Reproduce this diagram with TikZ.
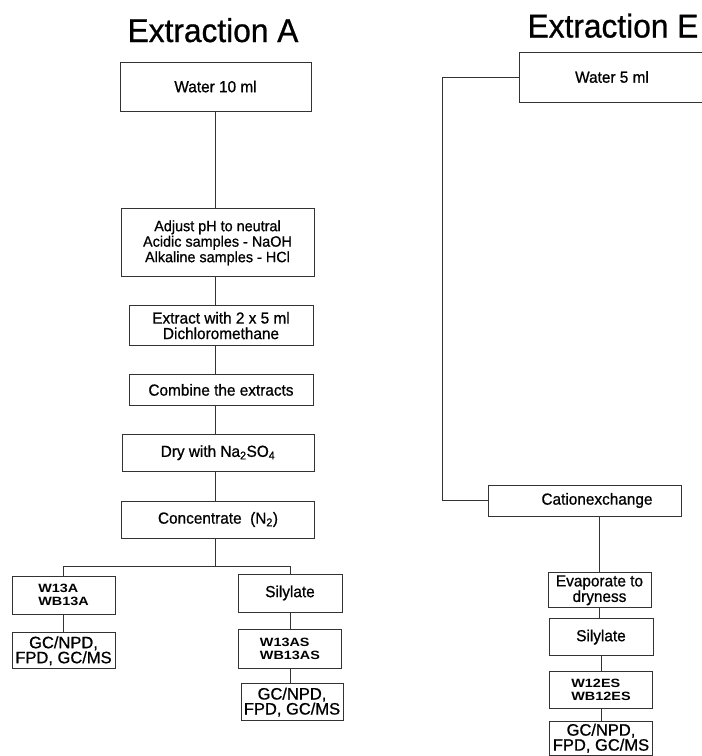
\documentclass[tikz,border=0pt]{standalone}
\usepackage{fontspec}
\setmainfont{Liberation Sans}[FakeStretch=0.96, FakeBold=0.8]
\newfontfamily\codefont{Liberation Sans}[FakeStretch=1.2]
\newfontfamily\gcfont{Liberation Sans}[FakeBold=0.8]
\usetikzlibrary{positioning}

\tikzset{
  box/.style={draw=black!80, line width=0.8pt, inner sep=0pt, align=center,
    font=\fontsize{16}{15.5}\selectfont},
  codebox/.style={box, align=left, font=\codefont\bfseries\fontsize{12}{13}\selectfont},
  gcbox/.style={box, font=\gcfont\fontsize{16.5}{15}\selectfont},
  link/.style={draw=black!80, line width=0.8pt},
  title/.style={font=\fontsize{33}{40}\selectfont, inner sep=0pt, anchor=base}
}

\begin{document}
\begin{tikzpicture}
        \useasboundingbox (0,0) rectangle (702pt,-756pt);

        \node[title] (titleA) at (213pt,-42pt) {Extraction A};
        \node[title] (titleE) at (613pt,-37.5pt) {Extraction E};

        % extraction A
        \node[box, minimum width=191pt, minimum height=49pt] (water10) at (215.5pt,-86.5pt) {Water 10 ml};
        \node[box, below=97pt of water10, xshift=2pt, minimum width=193pt, minimum height=68pt, font=\fontsize{15}{15.5}\selectfont] (adjust) {Adjust pH to neutral\\Acidic samples - NaOH\\Alkaline samples - HCl};
        \node[box, below=28pt of adjust, xshift=3.5pt, minimum width=184pt, minimum height=40pt] (extract) {Extract with 2 x 5 ml\\Dichloromethane};
        \node[box, below=28pt of extract, minimum width=184pt, minimum height=31pt] (combine) {Combine the extracts};
        \node[box, below=28pt of combine, xshift=-3pt, minimum width=192pt, minimum height=37pt] (dry) {Dry with Na\textsubscript{2}SO\textsubscript{4}};
        \node[box, below=29pt of dry, minimum width=193pt, minimum height=37pt] (conc) {Concentrate~~(N\textsubscript{2})};

        \node[codebox, minimum width=103pt, minimum height=38pt] (w13a) at (63.5pt,-595pt) {W13A\\WB13A};
        \node[gcbox, below=18pt of w13a, minimum width=103pt, minimum height=36pt] (gcA) {GC/NPD,\\FPD, GC/MS};
        \node[box, minimum width=104pt, minimum height=38pt] (silA) at (290pt,-593pt) {Silylate};
        \node[codebox, below=17pt of silA, minimum width=103pt, minimum height=39pt] (w13as) {W13AS\\WB13AS};
        \node[gcbox, below=14pt of w13as, xshift=2pt, minimum width=102pt, minimum height=37pt] (gcAS) {GC/NPD,\\FPD, GC/MS};

        % extraction E
        \node[box, minimum width=186pt, minimum height=50pt] (water5) at (612pt,-77pt) {Water 5 ml};
        \node[box, minimum width=193pt, minimum height=31pt] (cation) at (584.5pt,-500.5pt) {\hspace*{25pt}Cationexchange};
        \node[box, below=56pt of cation, xshift=15pt, minimum width=103pt, minimum height=35pt] (evap) {Evaporate to\\dryness};
        \node[box, below=10pt of evap, xshift=1.5pt, minimum width=104pt, minimum height=37pt] (silE) {Silylate};
        \node[codebox, below=15pt of silE, minimum width=103pt, minimum height=37pt] (w12es) {W12ES\\WB12ES};
        \node[gcbox, below=12pt of w12es, minimum width=103pt, minimum height=34pt] (gcE) {GC/NPD,\\FPD, GC/MS};

        \draw[link] (water10.south) -- (water10.south |- adjust.north);
        \draw[link] (adjust.south -| water10.south) -- (extract.north -| water10.south);
        \draw[link] (extract.south -| water10.south) -- (combine.north -| water10.south);
        \draw[link] (combine.south -| water10.south) -- (dry.north -| water10.south);
        \draw[link] (dry.south -| water10.south) -- (conc.north -| water10.south);
        \draw[link] (conc.south -| water10.south) -- ++(0,-28pt) coordinate (split);
        \draw[link] (split) -| (w13a.north);
        \draw[link] (split) -| (silA.north);
        \draw[link] (w13a.south) -- (gcA.north);
        \draw[link] (silA.south) -- (w13as.north);
        \draw[link] (w13as.south) -- (w13as.south |- gcAS.north);

        \draw[link] (water5.west) -- ++(-76pt,0) |- (cation.west);
        \draw[link] (cation.south -| evap.north) -- (evap.north);
        \draw[link] (evap.south) -- (evap.south |- silE.north);
        \draw[link] (silE.south) -- (w12es.north);
        \draw[link] (w12es.south) -- (gcE.north);
\end{tikzpicture}
\end{document}
